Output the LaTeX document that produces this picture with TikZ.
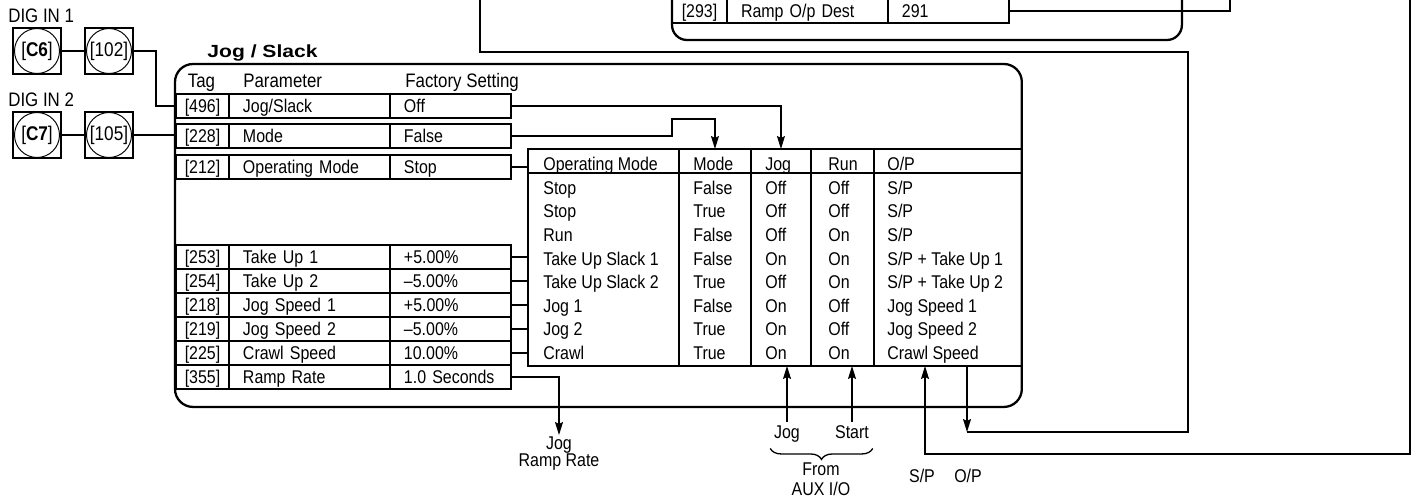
\documentclass[tikz,border=0pt]{standalone}
\usepackage{fontspec}
\setmainfont{Liberation Sans}[FakeStretch=0.865]
\newfontfamily\titlefont{Liberation Sans}[FakeStretch=1.2]
\usetikzlibrary{arrows.meta, positioning, calc, decorations.pathreplacing}
\newcommand{\tabfont}{\fontsize{10.5}{13.4}\selectfont}
\newcommand{\hdfont}{\fontsize{11.1}{13.4}\selectfont}

\begin{document}
\begin{tikzpicture}[x=0.02cm, y=-0.02cm,
  wire/.style={line width=0.75pt},
  blockframe/.style={draw, line width=1.3pt, inner sep=0pt, outer sep=0pt},
  cell/.style={draw, line width=0.75pt, minimum height=0.48cm, inner ysep=0pt,
    outer sep=0pt, text height=7.5pt, text depth=0pt, font=\tabfont},
  tagc/.style={cell, minimum width=1.06cm, inner xsep=0pt},
  parc/.style={cell, inner xsep=0.28cm, text width=2.66cm, align=left},
  setc/.style={cell, inner xsep=0.28cm, text width=1.86cm, align=left},
  colbox/.style={draw, line width=0.75pt, minimum height=4.34cm, inner sep=0pt,
    outer sep=0pt},
  coltxt/.style={anchor=north west, inner sep=0pt, align=left, font=\tabfont},
  lbl/.style={inner sep=2pt, text height=7.5pt, text depth=0pt, font=\tabfont},
  hd/.style={anchor=west, inner sep=0pt, text height=7.9pt, text depth=0pt,
    font=\hdfont},
  note/.style={inner sep=1pt, align=center, anchor=north},
  digbox/.style={draw, line width=0.75pt, minimum width=0.96cm, minimum height=0.92cm,
    inner sep=0pt, outer sep=0pt, font=\fontsize{11.3}{12}\selectfont,
    path picture={\draw[line width=0.55pt]
      (path picture bounding box.center) circle (0.45cm);}},
  arr/.style={-{Stealth[length=0.26cm, width=0.16cm, inset=0.04cm]}, line width=0.75pt},
]
\useasboundingbox (0,0) rectangle (1416,498);
\clip (0,0) rectangle (1416,498);
%% Ramp block (only its foot is shown)
\node[blockframe, rounded corners=0.3cm, minimum width=10.2cm, minimum height=1.6cm,
      anchor=south west] (rampblk) at (672,40) {};
\node[tagc, minimum width=1.1cm] (tag293) at (699.5,11) {[293]};
\node[parc, right=0pt of tag293] (par293) {Ramp O/p Dest};
\node[setc, right=0pt of par293] (set293) {291};
%% Jog / Slack block
\node[font=\titlefont\bfseries, inner sep=0pt, text height=7.2pt, text depth=0pt]
  (title) at (262.5,51.5) {Jog / Slack};
\node[blockframe, rounded corners=0.36cm, minimum width=16.94cm, minimum height=6.86cm,
      anchor=north west] (jogblk) at (175,64) {};
\node[hd] (hdtag) at (187.5,81) {Tag};
\node[hd] (hdpar) at (243,81) {Parameter};
\node[hd] (hdset) at (405,81) {Factory Setting};
\foreach \tg/\pn/\fs/\yy in {496/{Jog/Slack}/Off/106, 228/Mode/False/136,
    212/Operating Mode/Stop/167, 253/Take Up 1/+5.00\%/257, 254/Take Up 2/–5.00\%/281,
    218/Jog Speed 1/+5.00\%/305, 219/Jog Speed 2/–5.00\%/329,
    225/Crawl Speed/10.00\%/353, 355/Ramp Rate/1.0 Seconds/377}{
  \node[tagc] (tag\tg) at (202.5,\yy) {[\tg]};
  \node[parc, right=0pt of tag\tg] (par\tg) {\pn};
  \node[setc, right=0pt of par\tg] (set\tg) {\fs};
}
%% Operating mode table
\node[colbox, minimum width=3.02cm, anchor=north west] (colom) at (528,149) {};
\node[colbox, minimum width=1.44cm, right=0pt of colom] (colmd) {};
\node[colbox, minimum width=1.2cm, right=0pt of colmd] (coljg) {};
\node[colbox, minimum width=1.26cm, right=0pt of coljg] (colrn) {};
\node[colbox, minimum width=2.96cm, right=0pt of colrn] (colop) {};
\draw[wire] ($(colom.north west)+(0,24)$) -- ($(colop.north east)+(0,24)$);
\node[coltxt] (txtom) at (543,154) {\strut Operating Mode\\Stop\\Stop\\Run\\Take Up Slack 1\\Take Up Slack 2\\Jog 1\\Jog 2\\Crawl};
\node[coltxt] (txtmd) at (693,154) {\strut Mode\\False\\True\\False\\False\\True\\False\\True\\True};
\node[coltxt] (txtjg) at (765,154) {\strut Jog\\Off\\Off\\Off\\On\\Off\\On\\On\\On};
\node[coltxt] (txtrn) at (828,154) {\strut Run\\Off\\Off\\On\\On\\On\\Off\\Off\\On};
\node[coltxt] (txtop) at (887,154) {\strut O/P\\S/P\\S/P\\S/P\\S/P + Take Up 1\\S/P + Take Up 2\\Jog Speed 1\\Jog Speed 2\\Crawl Speed};
%% Digital inputs
\node[hd] (dig1) at (8,16) {DIG IN 1};
\node[digbox] (dc6) at (37,51) {[\textbf{C6}]};
\node[digbox] (d102) at (109,51) {[102]};
\node[hd] (dig2) at (8,100) {DIG IN 2};
\node[digbox] (dc7) at (37,135) {[\textbf{C7}]};
\node[digbox] (d105) at (109,135) {[105]};
%% Labels below
\node[note, font=\fontsize{10.5}{9.6}\selectfont] (jogrr) at (559,435) {Jog\\Ramp Rate};
\node[lbl] (injog) at (787,432) {Jog};
\node[lbl] (instart) at (852,432) {Start};
\node[note, font=\fontsize{10.5}{11.3}\selectfont] (aux) at (821,461) {From\\AUX I/O};
\node[lbl] (splbl) at (922,476) {S/P};
\node[lbl] (oplbl) at (968,476) {O/P};
\coordinate (sptop) at (1410,-5);
\coordinate (spturn) at (925,454);
\coordinate (opturn) at (967,432);
\coordinate (fbcorner) at (1188,52);
\coordinate (rampin) at (480,-5);
\coordinate (desttop) at (1230,-5);
%% Connections
\draw[wire] (dc6) -- (d102);
\draw[wire] (d102.east) -- ++(23,0) |- (tag496.west);
\draw[wire] (dc7) -- (d105);
\draw[wire] (d105.east) -- (d105.east -| tag228.west);
\foreach \tg in {212,253,254,218,219,225}
  \draw[wire] (set\tg.east) -- (set\tg.east -| colom.west);
\draw[arr] (set496.east) -| (coljg.north);
\draw[arr] (set228.east) -- ++(161,0) -- ++(0,-17) -| (colmd.north);
\draw[arr] (set355.east) -| (jogrr.north);
\draw[arr] (injog.north) -- (injog.north |- coljg.south);
\draw[arr] (instart.north) -- (instart.north |- colrn.south);
\draw[wire, decorate, decoration={brace, mirror, amplitude=0.22cm}]
  ($(injog.south west)+(0,6)$) -- ($(instart.south east)+(0,6)$);
\draw[arr] (sptop) |- (spturn) -- (spturn |- colop.south);
\draw[arr] (opturn |- colop.south) -- (opturn);
\draw[wire] (opturn) -| (fbcorner) -| (rampin);
\draw[wire] (set293.east) -| (desttop);
\end{tikzpicture}
\end{document}
